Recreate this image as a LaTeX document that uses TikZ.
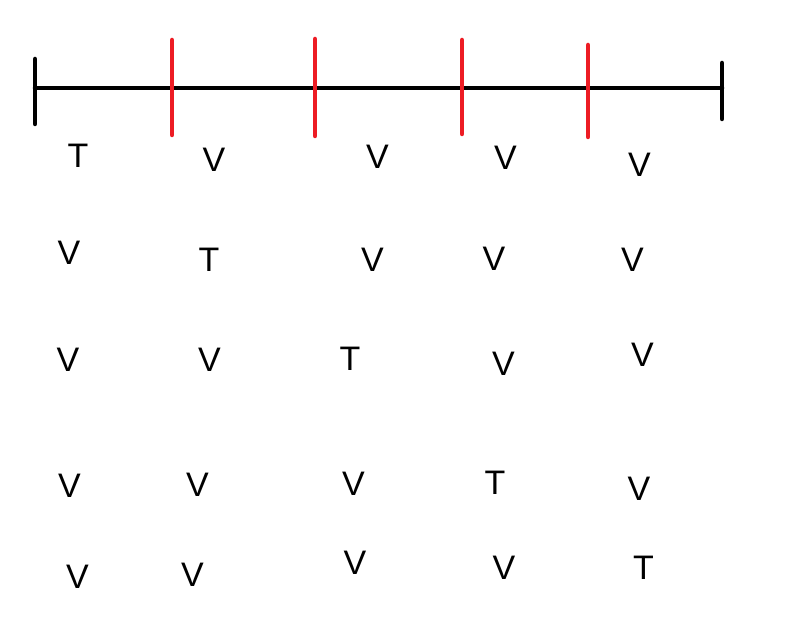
\documentclass[tikz,border=0pt]{standalone}
\usepackage{fontspec}
\setmainfont{Liberation Sans}
\tikzset{
  bar/.style={line width=4.5pt, black, line cap=round},
  tick/.style={line width=4.5pt, red!85!black, draw={rgb,255:red,237;green,28;blue,36}, line cap=round},
  lbl/.style={inner sep=0pt, outer sep=0pt, anchor=center, font=\fontsize{34}{36}\selectfont}
}
\begin{document}
\begin{tikzpicture}[x=1pt,y=-1pt]
\useasboundingbox (0,0) rectangle (794,617);
% axis
\coordinate (L) at (35,88);
\coordinate (R) at (722,88);
\coordinate (Lt) at (35,59);
\coordinate (Lb) at (35,124);
\coordinate (Rt) at (722,63);
\coordinate (Rb) at (722,119);
\draw[bar] (L) -- (R);
\draw[bar] (Lt) -- (Lb);
\draw[bar] (Rt) -- (Rb);
% red ticks
\coordinate (t1a) at (172,40); \coordinate (t1b) at (172,135);
\coordinate (t2a) at (315,39); \coordinate (t2b) at (315,136);
\coordinate (t3a) at (462,40); \coordinate (t3b) at (462,134);
\coordinate (t4a) at (588,45); \coordinate (t4b) at (588,137);
\draw[tick] (t1a) -- (t1b);
\draw[tick] (t2a) -- (t2b);
\draw[tick] (t3a) -- (t3b);
\draw[tick] (t4a) -- (t4b);
% row 1
\node[lbl] (r1c1) at (78,156) {T};
\node[lbl] (r1c2) at (214,160) {V};
\node[lbl] (r1c3) at (377.5,156.5) {V};
\node[lbl] (r1c4) at (505.5,158) {V};
\node[lbl] (r1c5) at (639.5,165) {V};
% row 2
\node[lbl] (r2c1) at (69,253) {V};
\node[lbl] (r2c2) at (209,259.5) {T};
\node[lbl] (r2c3) at (372.5,259.5) {V};
\node[lbl] (r2c4) at (494,259) {V};
\node[lbl] (r2c5) at (632.5,260) {V};
% row 3
\node[lbl] (r3c1) at (68,359.5) {V};
\node[lbl] (r3c2) at (209.5,359.5) {V};
\node[lbl] (r3c3) at (350,358.5) {T};
\node[lbl] (r3c4) at (503.5,364) {V};
\node[lbl] (r3c5) at (642.5,355) {V};
% row 4
\node[lbl] (r4c1) at (69.5,485.5) {V};
\node[lbl] (r4c2) at (197.5,484.5) {V};
\node[lbl] (r4c3) at (353.5,484) {V};
\node[lbl] (r4c4) at (495,482.5) {T};
\node[lbl] (r4c5) at (639,489) {V};
% row 5
\node[lbl] (r5c1) at (77.5,576.5) {V};
\node[lbl] (r5c2) at (192.5,574.5) {V};
\node[lbl] (r5c3) at (355,562.5) {V};
\node[lbl] (r5c4) at (504,567.5) {V};
\node[lbl] (r5c5) at (643.5,567.5) {T};
\end{tikzpicture}
\end{document}
